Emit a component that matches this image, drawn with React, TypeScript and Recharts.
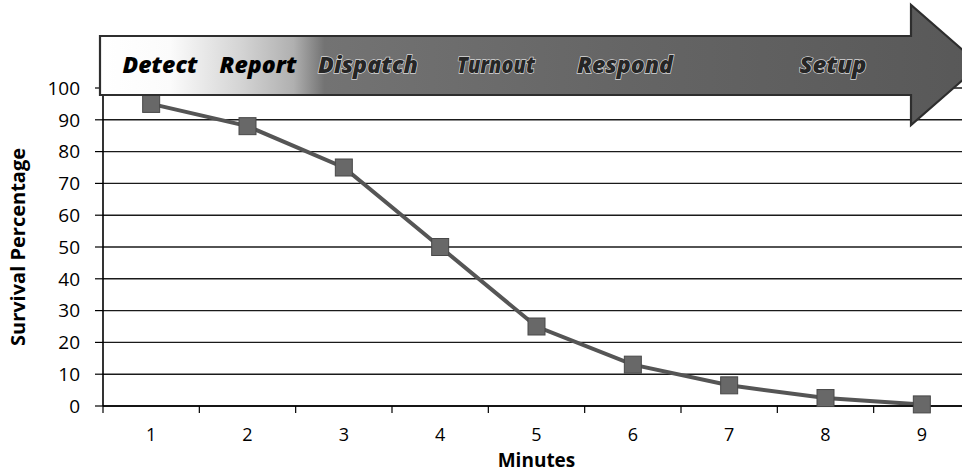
import React from "react";
import { LineChart, Line, XAxis, YAxis, CartesianGrid } from "recharts";

const minutes = [1, 2, 3, 4, 5, 6, 7, 8, 9];
const survival = [95, 88, 75, 50, 25, 13, 6.5, 2.5, 0.5];
const yTicks = [0, 10, 20, 30, 40, 50, 60, 70, 80, 90, 100];
const xTicks = [0.5, 1, 1.5, 2, 2.5, 3, 3.5, 4, 4.5, 5, 5.5, 6, 6.5, 7, 7.5, 8, 8.5, 9, 9.5];
const phases = ["Detect", "Report", "Dispatch", "Turnout", "Respond", "Setup"];
// layout of phase labels on the arrow (center x, width, halo)
const phaseLayout = [
  { cx: 160, w: 75, halo: false },
  { cx: 258, w: 77, halo: false },
  { cx: 368, w: 100, halo: true },
  { cx: 496, w: 78, halo: true },
  { cx: 625, w: 96, halo: true },
  { cx: 833, w: 67, halo: true },
];

const data = minutes.map((m, i) => ({ minute: m, survival: survival[i] }));

const FONT = "'Open Sans', 'DejaVu Sans', sans-serif";
const TICK_MARGIN = 22;

const XTick = (props: any) => {
  const { x, y, payload } = props;
  const v = payload.value;
  if (Number.isInteger(v)) {
    return (
      <text x={x} y={y} dy="0.71em" textAnchor="middle" fill="#000" fontSize={18} fontFamily={FONT}>
        {v}
      </text>
    );
  }
  return <line x1={x} x2={x} y1={y - TICK_MARGIN} y2={y - TICK_MARGIN + 7} stroke="#000" strokeWidth={1.2} />;
};

const SquareDot = (props: any) => {
  const { cx, cy } = props;
  if (cx == null || cy == null) return null;
  return <rect x={cx - 8.5} y={cy - 8.5} width={17} height={17} fill="#686868" stroke="#484848" strokeWidth={1} />;
};

export default function App() {
  return (
    <div style={{ position: "absolute", left: 0, top: 0, width: 962, height: 472, overflow: "hidden", background: "#fff" }}>
      <LineChart width={1000} height={472} data={data} margin={{ top: 88, right: 30, left: 0, bottom: 0 }}>
        <CartesianGrid horizontal={true} vertical={false} stroke="#1a1a1a" strokeWidth={1.4} />
        <XAxis
          dataKey="minute"
          type="number"
          domain={[0.5, 9.5]}
          ticks={xTicks}
          interval={0}
          tickLine={false}
          tickSize={0}
          tickMargin={TICK_MARGIN}
          tick={<XTick />}
          axisLine={{ stroke: "#000", strokeWidth: 1.4 }}
          height={66}
          label={{ value: "Minutes", position: "insideBottom", offset: 5, style: { fontFamily: FONT, fontWeight: 700, fontSize: 19, fill: "#000" } }}
        />
        <YAxis
          type="number"
          domain={[0, 100]}
          ticks={yTicks}
          interval={0}
          width={103}
          tickSize={8}
          tickMargin={15}
          tickLine={{ stroke: "#000", strokeWidth: 1.2 }}
          axisLine={{ stroke: "#000", strokeWidth: 1.6 }}
          tick={{ fill: "#000", fontSize: 19, fontFamily: FONT }}
          label={{
            value: "Survival Percentage",
            angle: -90,
            position: "insideLeft",
            offset: 18,
            style: { textAnchor: "middle", fontFamily: FONT, fontWeight: 700, fontSize: 20, fill: "#000" },
          }}
        />
        <Line
          type="linear"
          dataKey="survival"
          stroke="#555555"
          strokeWidth={4}
          dot={<SquareDot />}
          activeDot={false}
          isAnimationActive={false}
        />
      </LineChart>
      <svg width={962} height={472} style={{ position: "absolute", left: 0, top: 0, pointerEvents: "none" }}>
        <defs>
          <linearGradient id="arrowFill" gradientUnits="userSpaceOnUse" x1={100} y1={0} x2={980} y2={0}>
            <stop offset="0" stopColor="#ffffff" />
            <stop offset="0.08" stopColor="#fbfbfb" />
            <stop offset="0.16" stopColor="#d4d4d4" />
            <stop offset="0.22" stopColor="#b0b0b0" />
            <stop offset="0.255" stopColor="#737373" />
            <stop offset="0.6" stopColor="#656565" />
            <stop offset="1" stopColor="#585858" />
          </linearGradient>
        </defs>
        <polygon
          points="100,36 911,36 911,5 980,65 911,125 911,95 100,95"
          fill="url(#arrowFill)"
          stroke="#2e2e2e"
          strokeWidth={2.2}
          strokeLinejoin="miter"
        />
        {phases.map((p, i) => {
          const l = phaseLayout[i];
          return (
            <text
              key={p}
              x={l.cx}
              y={73}
              textAnchor="middle"
              fontFamily={FONT}
              fontWeight={800}
              fontStyle="italic"
              fontSize={22}
              textLength={l.w}
              lengthAdjust="spacingAndGlyphs"
              fill={l.halo ? "#262626" : "#000"}
              stroke={l.halo ? "#d8d8d8" : "none"}
              strokeWidth={l.halo ? 1.3 : 0}
              paintOrder="stroke"
            >
              {p}
            </text>
          );
        })}
      </svg>
    </div>
  );
}
